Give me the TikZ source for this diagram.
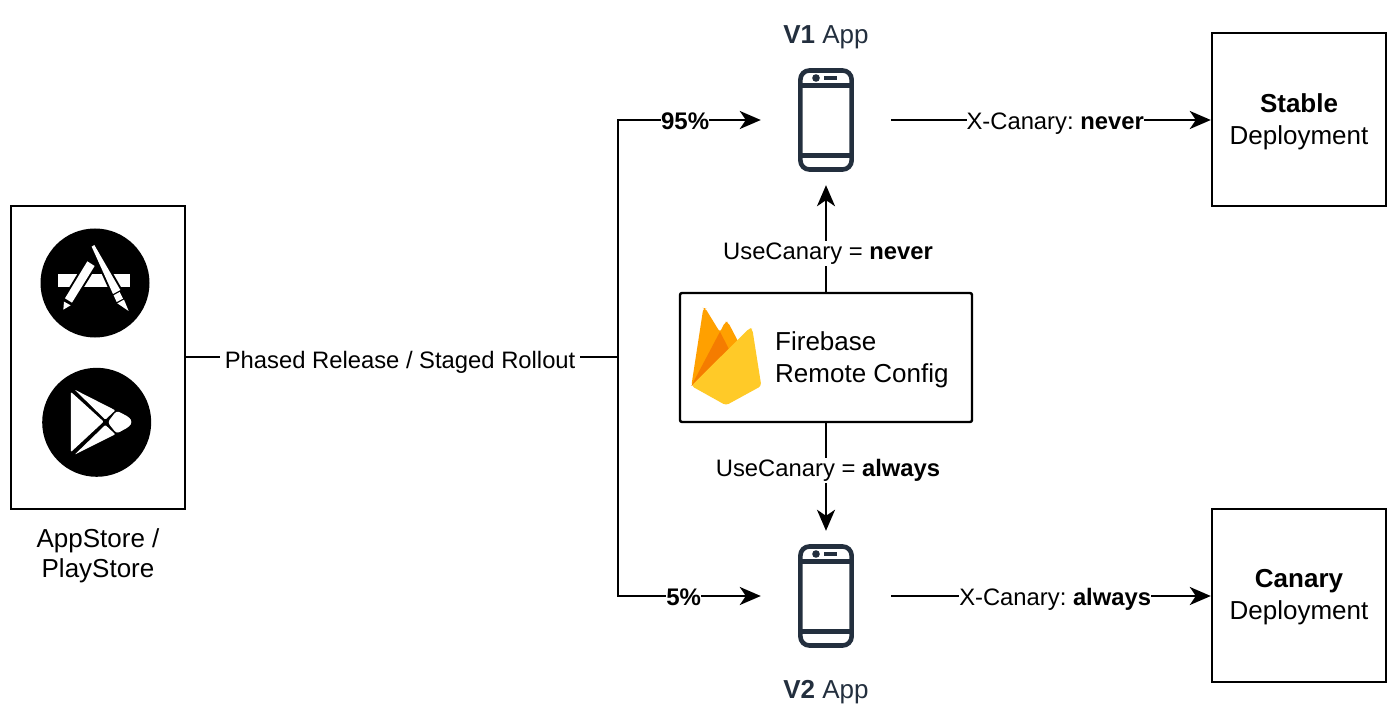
\documentclass[tikz,border=0pt]{standalone}
\usepackage{fontspec}
\setmainfont{Liberation Sans}
\usetikzlibrary{arrows.meta}
\definecolor{slate}{HTML}{232F3E}
\definecolor{fireyellow}{HTML}{FFCA28}
\definecolor{fireorange}{HTML}{FFA000}
\definecolor{firedark}{HTML}{F57C00}
\tikzset{
  phoneicon/.pic={
    \draw[slate, line width=4.6pt, rounded corners=9pt] (-25.6,-49.5) rectangle (25.6,49.5);
    \draw[slate, line width=4.2pt] (-25.6,-34.5) -- (25.6,-34.5);
    \draw[slate, line width=4.2pt] (-25.6,35.5) -- (25.6,35.5);
    \fill[slate] (-10,-42) circle (3.8pt);
    \fill[slate] (-2,-44) rectangle (11,-40);
  }
}
\begin{document}
\begin{tikzpicture}[x=1pt, y=-1pt,
    every node/.style={font=\frenchspacing\fontsize{23.8}{32}\selectfont},
    bigtext/.style={font=\frenchspacing\fontsize{26}{32}\selectfont},
    box/.style={draw=black, line width=2.4pt, fill=white, inner sep=0pt},
    phonebox/.style={minimum width=130pt, minimum height=130pt, inner sep=0pt},
    wire/.style={draw=black, line width=2.2pt},
    arrow/.style={wire, -{Stealth[length=21pt, width=18pt, inset=6pt]}},
    tag/.style={fill=white, inner sep=1.5pt, text=black},
    glyph/.style={fill=white, preaction={draw=black, line width=4pt}}]
  \useasboundingbox (0,0) rectangle (1400,719);

  % left store box
  \node[box, minimum width=174pt, minimum height=303pt] (store) at (98,357.5) {};
  \node[align=center, bigtext] (storelabel) at (98,555.5) {AppStore /\\[-2pt]PlayStore};
  \fill[black] (95,283) circle (54.5pt);
  \fill[black] (96.7,422.3) circle (54.5pt);
  \begin{scope}[x=0.3333pt, y=-0.3333pt, yshift=-200pt]
    \fill[white] (175,222) rectangle (390,262);
    \path[glyph] (262,184) -- (284,198) -- (216,308) -- (195,295) -- cycle;
    \fill[white] (192,305) -- (212,316) -- (190,329) -- cycle;
    \path[glyph] (275,140) -- (283,135) -- (361,270) -- (339,282) -- cycle;
    \fill[white] (341,286) -- (359,276) -- (369,296) -- (350,306) -- cycle;
    \fill[white] (352,310) -- (372,299) -- (386,333) -- cycle;
    % play glyph
    \fill[white, rounded corners=1pt] (213,576) -- (311,665) -- (213,756) -- cycle;
    \fill[white, rounded corners=1pt] (224,569) -- (346,631) -- (316,659) -- cycle;
    \fill[white, rounded corners=1pt] (224,764) -- (346,703) -- (316,675) -- cycle;
    \fill[white, rounded corners=3pt] (350,632) -- (388,652) -- (397,666) -- (388,680) -- (350,701) -- (323,667) -- cycle;
  \end{scope}

  % deployments
  \node[box, minimum width=174pt, minimum height=173pt] (stable) at (1299,119.5) {};
  \node[box, minimum width=174pt, minimum height=173pt] (canary) at (1299,595.5) {};
  \node[align=center, bigtext] (stabletext) at (1299,121.5) {\textbf{Stable}\\Deployment};
  \node[align=center, bigtext] (canarytext) at (1299,597.5) {\textbf{Canary}\\Deployment};

  % phones
  \foreach \n/\y in {phoneA/120,phoneB/596} {
    \node[phonebox] (\n) at (826,\y) {};
    \pic at (\n) {phoneicon};
  }
  \node[text=slate, bigtext] (appA) at (826,37) {\textbf{V1} App};
  \node[text=slate, bigtext] (appB) at (826,692) {\textbf{V2} App};

  % firebase
  \node[box, rounded corners=2pt, minimum width=292pt, minimum height=129pt] (firebase) at (826,357.5) {};
  \node[align=left, anchor=west, inner sep=0pt, bigtext] (firetext) at (775,360) {Firebase\\Remote Config};
  \begin{scope}[x=0.3333pt, y=-0.3333pt, xshift=670pt, yshift=-280pt]
    \fill[fireorange, rounded corners=3pt] (64,318) -- (100,84) -- (106,85) -- (150,157) -- (165,126) -- (174,126) -- (215,205) -- (120,330) -- cycle;
    \fill[firedark] (64,318) -- (150,155) -- (176,206) -- cycle;
    \fill[fireyellow, rounded corners=3pt] (64,318) -- (239,144) -- (247,147) -- (274,318) -- (168,376) -- cycle;
  \end{scope}

  \coordinate (split) at (618,357);
  \draw[wire] (store.east |- split) -- (split) node[tag, midway, xshift=-2pt, yshift=-5pt, inner sep=5pt] (rollout) {Phased Release / Staged Rollout};
  \draw[arrow] (split) |- (phoneA) node[tag, pos=.735, yshift=-1pt, font=\fontsize{24}{32}\selectfont\bfseries, inner sep=0pt] (pctA) {95\%};
  \draw[arrow] (split) |- (phoneB) node[tag, pos=.73, yshift=-1pt, font=\fontsize{24}{32}\selectfont\bfseries, inner sep=0pt] (pctB) {5\%};
  \draw[arrow] (phoneA) -- (stable.west |- phoneA) node[tag, pos=.513, yshift=-4pt, inner sep=0pt] (hdrA) {X-Canary: \textbf{never}};
  \draw[arrow] (phoneB) -- (canary.west |- phoneB) node[tag, pos=.513, yshift=-3pt, inner sep=0pt] (hdrB) {X-Canary: \textbf{always}};
  \draw[arrow] (firebase) -- (phoneA) node[tag, pos=.39, xshift=2pt, yshift=-3pt] (cfgA) {UseCanary = \textbf{never}};
  \draw[arrow] (firebase) -- (phoneB) node[tag, pos=.42, xshift=2pt, yshift=-2pt] (cfgB) {UseCanary = \textbf{always}};
\end{tikzpicture}
\end{document}
